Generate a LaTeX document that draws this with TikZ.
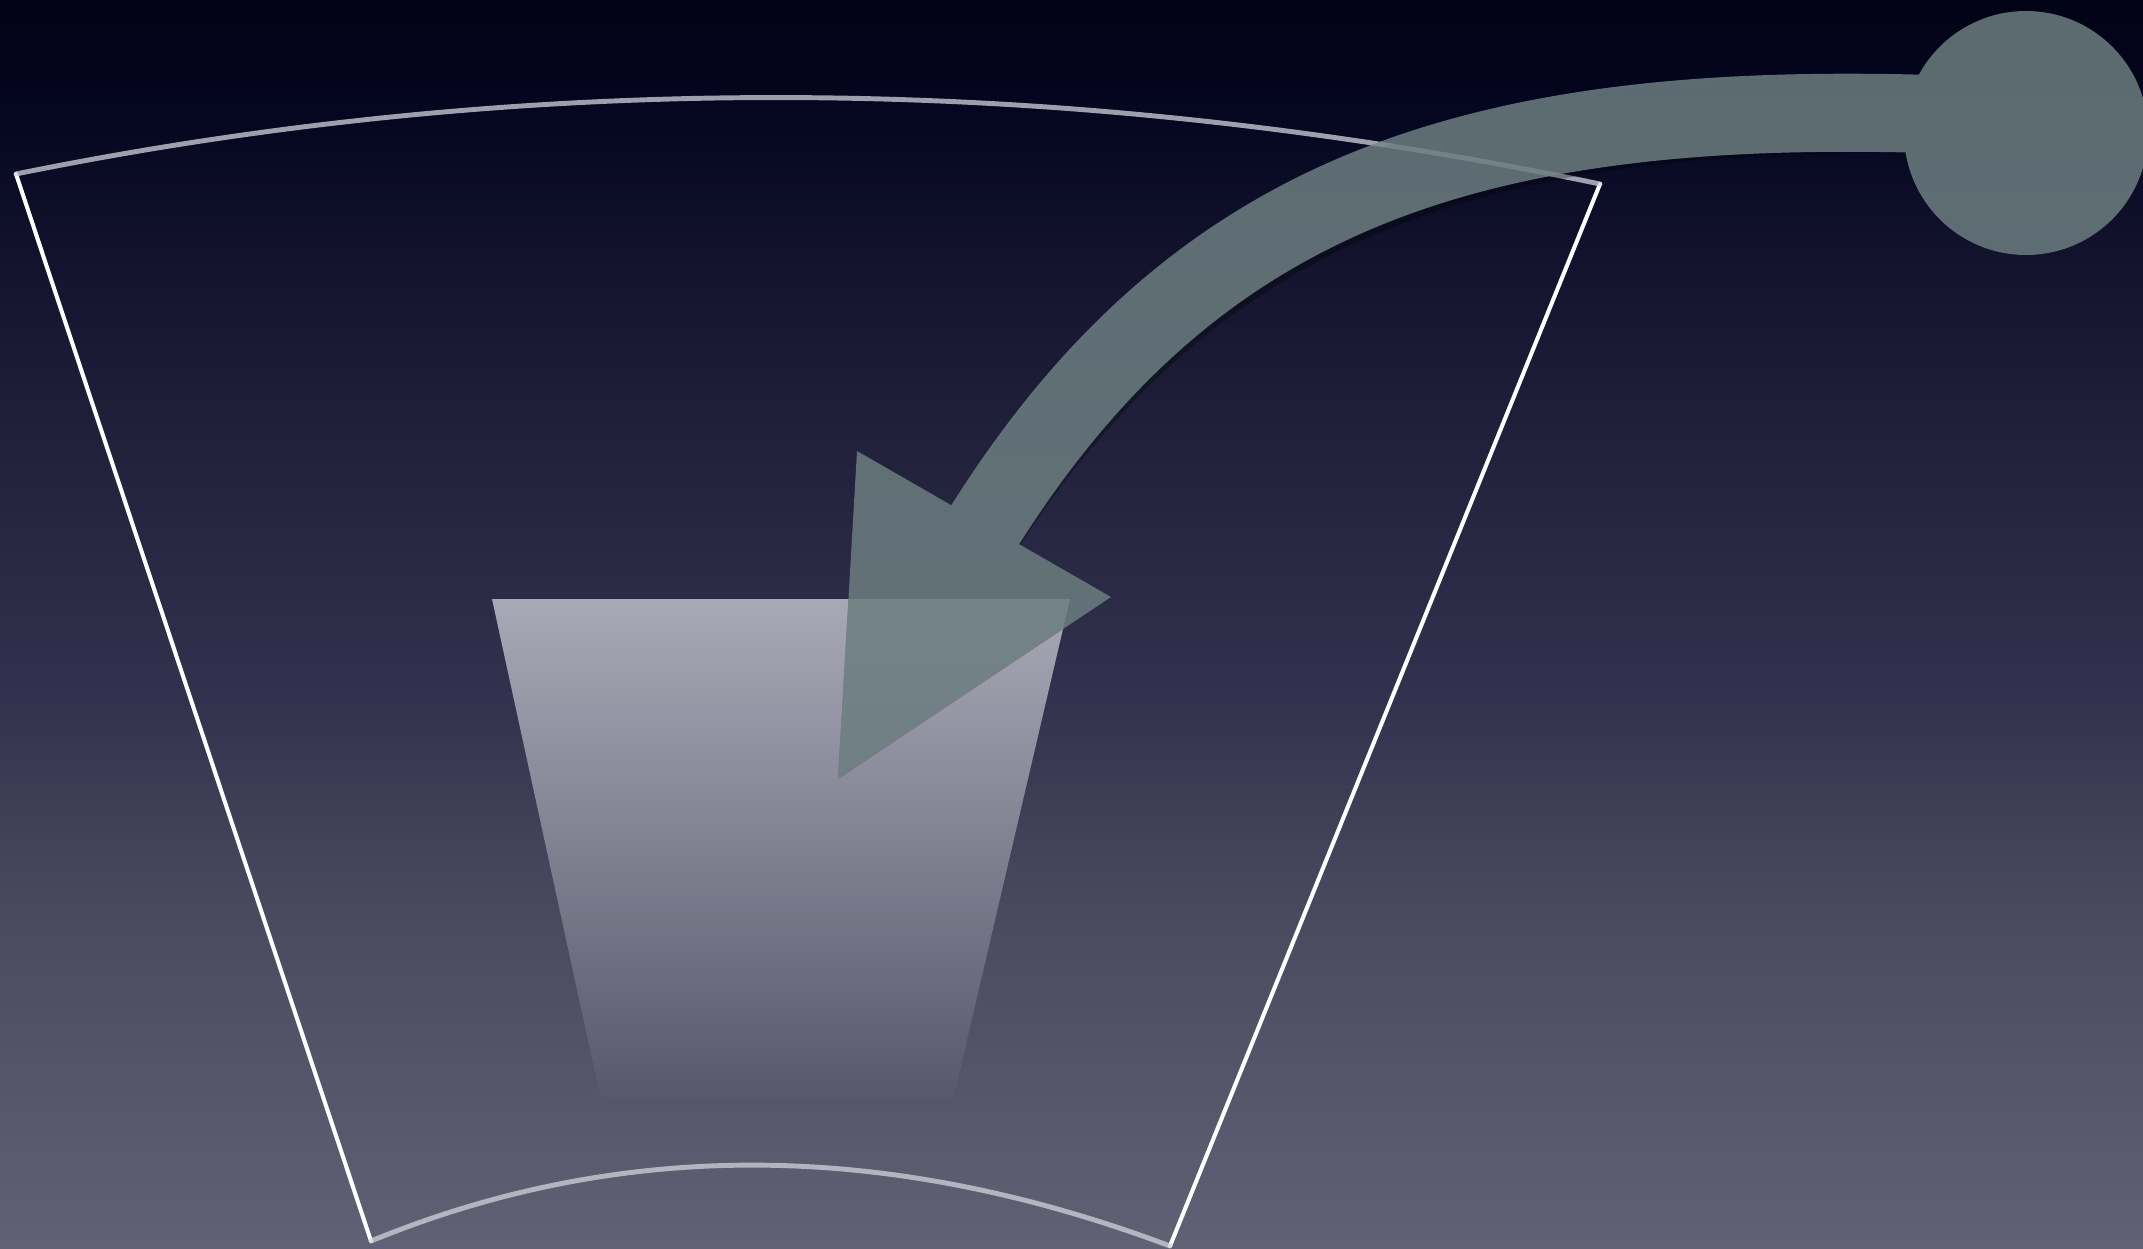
\documentclass[tikz,border=0pt]{standalone}
\usetikzlibrary{calc}
\definecolor{bgA}{RGB}{2,3,22}
\definecolor{bgB}{RGB}{5,6,32}
\definecolor{bgC}{RGB}{18,18,45}
\definecolor{bgD}{RGB}{35,35,62}
\definecolor{bgE}{RGB}{50,50,78}
\definecolor{bgF}{RGB}{75,75,95}
\definecolor{bgG}{RGB}{97,97,117}
\definecolor{arrowCol}{RGB}{115,134,136}
\definecolor{trapTop}{RGB}{168,168,182}
\definecolor{trapBot}{RGB}{88,88,108}
\definecolor{arcCol}{RGB}{210,210,220}
\pgfdeclareverticalshading{bgshade}{100bp}{color(0bp)=(bgG); color(25bp)=(bgG); color(37.95bp)=(bgF); color(47bp)=(bgE); color(56bp)=(bgD); color(65bp)=(bgC); color(70.2bp)=(bgB); color(75bp)=(bgA); color(100bp)=(bgA)}
\tikzset{
  sideline/.style={draw=white, line width=1.15pt, line cap=round},
  arcline/.style={draw=arcCol, draw opacity=0.75, line width=1.4pt, line cap=round},
  shaftline/.style={line width=22.2pt},
}
\begin{document}
\begin{tikzpicture}[x=0.01cm, y=-0.01cm]
\useasboundingbox (0,0) rectangle (2143,1249);
% background
\shade[shading=bgshade] (0,0) rectangle (2143,1249);
% key coordinates
\coordinate (TL) at (16,174);
\coordinate (TR) at (1600,184);
\coordinate (BL) at (371,1241);
\coordinate (BR) at (1170,1246);
\coordinate (gTL) at (492,599);
\coordinate (gTR) at (1070,599);
\coordinate (gBR) at (953,1100);
\coordinate (gBL) at (601,1100);
\coordinate (ballC) at (2026,133);
\coordinate (sStart) at (1930,114);
\coordinate (sEnd) at (955,575);
\coordinate (hA) at (857,451);
\coordinate (hB) at (1111,597);
\coordinate (hTip) at (838,779);
% glass (trapezoid)
\shade[top color=trapTop, bottom color=trapBot] (gTL) -- (gTR) -- (gBR) -- (gBL) -- cycle;
% frame
\draw[sideline] (TL) -- (BL);
\draw[sideline] (TR) -- (BR);
\draw[arcline] (TL) .. controls (533,69) and (1061,72) .. (TR);
\draw[arcline] (BL) .. controls (622,1138) and (888,1140) .. (BR);
% arrow shadow
\begin{scope}[transparency group, opacity=0.28, shift={(5,7)}]
  \draw[shaftline, black] (sStart) .. controls (1450,100) and (1169,201) .. (sEnd);
  \fill[black] (hA) -- (hB) -- (hTip) -- cycle;
  \fill[black] (ballC) circle (122);
\end{scope}
% arrow
\begin{scope}[transparency group, opacity=0.8]
  \draw[shaftline, arrowCol] (sStart) .. controls (1450,100) and (1169,201) .. (sEnd);
  \fill[arrowCol] (hA) -- (hB) -- (hTip) -- cycle;
  \fill[arrowCol] (ballC) circle (122);
\end{scope}
\end{tikzpicture}
\end{document}
